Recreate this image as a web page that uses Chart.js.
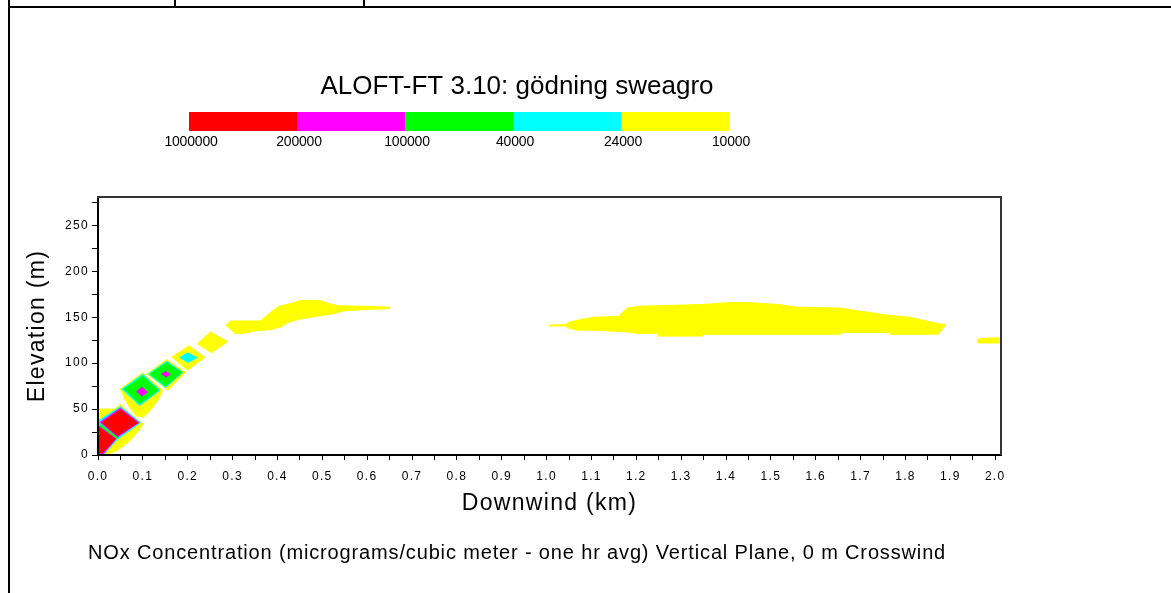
<!DOCTYPE html>
<html><head><meta charset="utf-8">
<script src="https://cdn.jsdelivr.net/npm/chart.js@4.4.1/dist/chart.umd.min.js"></script>
<style>html,body{margin:0;padding:0;background:#fff;overflow:hidden}canvas{display:block}</style>
</head><body>
<canvas id="c" width="1171" height="593"></canvas>
<script>
// ---------- texts ----------
const chartTitle = 'ALOFT-FT 3.10: gödning sweagro';
const xTitle = 'Downwind (km)';
const yTitle = 'Elevation (m)';
const footnote = 'NOx Concentration (micrograms/cubic meter - one hr avg) Vertical Plane, 0 m Crosswind';

// ---------- contour levels (µg/m³) ----------
const levelLabels = ['1000000', '200000', '100000', '40000', '24000', '10000'];
const levelColors = ['#ff0000', '#ff00ff', '#00ff00', '#00ffff', '#ffff00']; // red, magenta, green, cyan, yellow

// ---------- axes ----------
const xRange = [0, 2.013];   // km
const yRange = [0, 281];     // m
const xStep = 0.05, yStep = 25;

// ---------- contour regions, [downwind km, elevation m] ----------
// >= 10000 (yellow)
const yellowSource   = [[0,50],[0.038,50],[0.05,55],[0.068,46],[0.101,33.5],[0.086,24],[0.068,14],[0.041,4.5],[0.014,0],[0,0]];
const yellowPuff1    = [[0.049,71.5],[0.099,89.5],[0.144,70.5],[0.135,60.5],[0.117,49],[0.101,41],[0.086,42.5],[0.070,52],[0.057,63]];
const yellowPuff2    = [[0.108,88],[0.153,104],[0.195,90],[0.155,70.5]];
const yellowPuff3    = [[0.164,106.5],[0.203,119],[0.238,106.5],[0.199,92]];
const yellowPuff4    = [[0.221,121],[0.251,134],[0.289,123.5],[0.252,111]];
const yellowPlumeNear = [[0.285,141],[0.296,146],[0.363,146],[0.367,148.5],[0.382,154],[0.393,158.5],[0.404,162],[0.422,164],[0.437,166],[0.452,168.5],[0.497,168],[0.515,165],[0.534,162.5],[0.601,162],[0.65,161],
                         [0.65,159.5],[0.601,158.5],[0.549,157],[0.534,155],[0.515,153],[0.486,151],[0.467,149.5],[0.445,147.5],[0.422,144],[0.408,139.5],[0.385,136.5],[0.348,135],[0.326,132.5],[0.304,132.5]];
const yellowPlumeFar = [[1.005,141.5],[1.045,142],[1.047,144],[1.07,147],[1.105,150],[1.16,151],[1.18,160],[1.205,162],[1.35,164],[1.405,166],[1.45,166],[1.515,164],[1.56,161],[1.655,160],[1.695,157],[1.737,154],[1.766,152],[1.81,150],[1.833,147.5],[1.855,145],[1.89,141.5],
                        [1.873,131.5],[1.766,131.5],[1.766,133.5],[1.655,133.5],[1.655,131.5],[1.347,131.5],[1.347,129.5],[1.249,129.5],[1.249,132.5],[1.205,132.5],[1.18,134],[1.105,136],[1.07,136],[1.047,138.5],[1.045,140.5],[1.005,140.5]];
const yellowEdge     = [[1.96,126],[1.985,127.5],[2.013,127.5],[2.013,122],[1.96,122]];
// >= 24000 (cyan)
const cyanSource = [[0,37],[0.05,52.6],[0.095,35.2],[0.044,17.5],[0.015,2],[0.005,0],[0,0]];
const cyanPuff1  = [[0.053,71.6],[0.100,87.9],[0.138,70.5],[0.092,53.7]];
const cyanPuff2  = [[0.112,88],[0.153,102],[0.189,90],[0.150,73.2]];
const cyanPuff3  = [[0.182,106],[0.200,111.4],[0.221,106],[0.200,100.6]];
// >= 40000 (green)
const greenPuff1 = [[0.058,71.6],[0.100,85.7],[0.134,70.5],[0.092,55.9]];
const greenPuff2 = [[0.116,88],[0.153,100.3],[0.186,90],[0.150,74.8]];
const greenSeam  = [[0,34],[0.043,18.5]];
// >= 100000 (magenta)
const magentaSourceUpper = [[0.004,35.5],[0.05,51],[0.091,35.2],[0.043,19.5]];
const magentaSourceLower = [[0,33],[0.041,18],[0.013,2],[0.002,0],[0,0]];
const magentaPuff1 = [[0.086,68.9],[0.098,73.8],[0.110,68.3],[0.097,64.0]];
const magentaPuff2 = [[0.141,88],[0.151,91.1],[0.161,88],[0.151,84.6]];
// >= 200000 (red)
const redSourceUpper = [[0.008,35],[0.05,49.3],[0.088,35.2],[0.043,21]];
const redSourceLower = [[0,31],[0.038,17.5],[0.011,3],[0,1.5]];

// drawing order: outer levels first
const layers = [
  [yellowSource,4],[yellowPuff1,4],[yellowPuff2,4],[yellowPuff3,4],[yellowPuff4,4],[yellowPlumeNear,4],[yellowPlumeFar,4],[yellowEdge,4],
  [cyanSource,3],[cyanPuff1,3],[cyanPuff2,3],[cyanPuff3,3],
  [greenPuff1,2],[greenPuff2,2],
  [magentaSourceUpper,1],[magentaSourceLower,1],[magentaPuff1,1],[magentaPuff2,1],
  [greenSeam,2,'line'],
  [redSourceUpper,0],[redSourceLower,0]
];

const datasets = layers.map(([pts, lvl, kind], i) => ({
  data: pts.map(([x, y]) => ({x, y})),
  showLine: true,
  fill: kind === 'line' ? false : 'shape',
  backgroundColor: levelColors[lvl],
  borderColor: levelColors[lvl],
  borderWidth: kind === 'line' ? 2 : 1,
  pointRadius: 0, pointHoverRadius: 0, tension: 0,
  order: layers.length - i
}));

const FONT = '"Liberation Sans", Arial, sans-serif';

function txt(ctx, s, x, y, size, spacing, align) {
  ctx.save();
  ctx.font = size + 'px ' + FONT;
  ctx.letterSpacing = spacing + 'px';
  ctx.fillStyle = '#000';
  ctx.textAlign = align; ctx.textBaseline = 'middle';
  ctx.fillText(s, x, y);
  ctx.restore();
}

const decor = {
  id: 'decor',
  beforeDraw(chart) { chart.ctx.letterSpacing = '1.3px'; },
  afterDraw(chart) {
    const ctx = chart.ctx, a = chart.chartArea;
    ctx.save();
    ctx.letterSpacing = '0px';
    // plot box top/right
    ctx.fillStyle = '#333';
    ctx.fillRect(a.left - 1, a.top - 1, a.right - a.left + 2, 2);
    ctx.fillRect(a.right - 1, a.top - 1, 2, a.bottom - a.top + 1);
    // page frame
    ctx.fillStyle = '#000';
    ctx.fillRect(8, 0, 2, 593);
    ctx.fillRect(8, 6, 1163, 2);
    ctx.fillRect(174, 0, 2, 7);
    ctx.fillRect(363, 0, 2, 7);
    // title
    txt(ctx, chartTitle, 517, 87, 26, 0, 'center');
    // colour bar
    const bx = 189, bw = 108, by = 112, bh = 19;
    levelColors.forEach((c, i) => { ctx.fillStyle = c; ctx.fillRect(bx + i * bw, by, bw, bh); });
    levelLabels.forEach((l, i) => txt(ctx, l, bx + i * bw + 2, 142, 14, -0.2, 'center'));
    // footnote
    txt(ctx, footnote, 88, 553, 20, 0.85, 'left');
    ctx.restore();
  }
};

new Chart(document.getElementById('c'), {
  type: 'scatter',
  data: { datasets },
  options: {
    responsive: false, animation: false, devicePixelRatio: 1, events: [],
    layout: { padding: { left: 0, right: 170, top: 197, bottom: 70 } },
    plugins: { legend: { display: false }, tooltip: { enabled: false }, title: { display: false } },
    scales: {
      x: {
        type: 'linear', min: xRange[0], max: xRange[1],
        afterFit: s => { s.height = 68; },
        border: { display: true, color: '#000', width: 2, z: 1 },
        grid: { display: true, drawOnChartArea: false, drawTicks: true, tickLength: 5, tickColor: '#000', tickWidth: 1 },
        ticks: { stepSize: xStep, maxTicksLimit: 100, includeBounds: false, autoSkip: false, maxRotation: 0, padding: 9,
                 color: '#000', font: { family: FONT, size: 12 },
                 callback: v => (Math.round(v / xStep) % 2 === 0 ? v.toFixed(1) : '') },
        title: { display: true, text: xTitle, color: '#000', font: { family: FONT, size: 23 }, padding: { top: 0, bottom: 6 } }
      },
      y: {
        type: 'linear', min: yRange[0], max: yRange[1],
        afterFit: s => { s.width = 98; },
        border: { display: true, color: '#000', width: 2, z: 1 },
        grid: { display: true, drawOnChartArea: false, drawTicks: true, tickLength: 6, tickColor: '#000', tickWidth: 1 },
        ticks: { stepSize: yStep, maxTicksLimit: 100, includeBounds: false, padding: 3,
                 color: '#000', font: { family: FONT, size: 12 },
                 callback: v => (Math.round(v) % 50 === 0 ? String(v) : '') },
        title: { display: true, text: yTitle, color: '#000', font: { family: FONT, size: 23 }, padding: { top: 24, bottom: 0 } }
      }
    }
  },
  plugins: [decor]
});
</script>
</body></html>
